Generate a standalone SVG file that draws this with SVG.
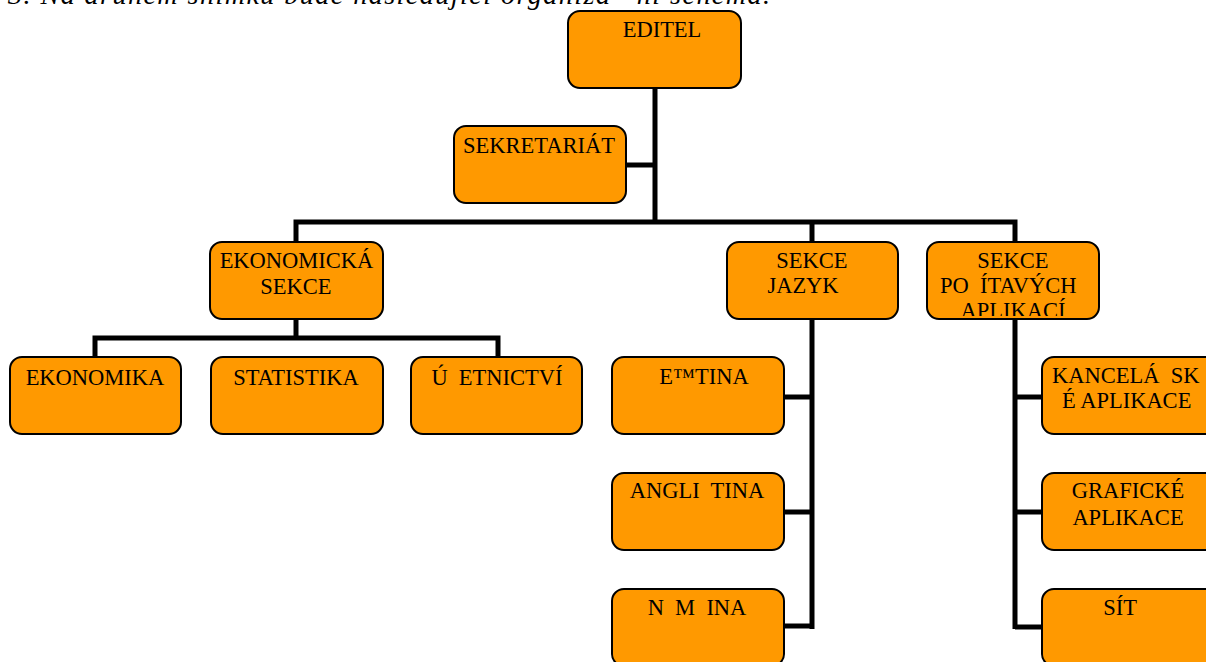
<svg xmlns="http://www.w3.org/2000/svg" width="1206" height="662" viewBox="0 0 1206 662" font-family="Liberation Serif, Times New Roman, serif">
<style>
.box{fill:#FF9900;stroke:#000;stroke-width:2}
.t{font-size:22.5px;fill:#000}
.m{text-anchor:middle}
.c{stroke:#000;stroke-width:5;fill:none;stroke-linejoin:miter}
.title{font-size:28px;font-style:italic;fill:#000}
</style>
<defs>
<clipPath id="clipPoc"><rect x="927" y="242" width="172" height="74"/></clipPath>
</defs>
<rect width="1206" height="662" fill="#fff"/>
<text class="title" x="8" y="4" xml:space="preserve" textLength="762" lengthAdjust="spacing">3. Na druhém snímku bude následující organiza   ní schéma.</text>

<g id="connectors">
<path class="c" d="M655,88 V222"/>
<path class="c" d="M626,165 H655"/>
<path class="c" d="M296,243 V222 H1015 V243"/>
<path class="c" d="M812,222 V243"/>
<path class="c" d="M296,319 V338"/>
<path class="c" d="M95,358 V338 H498 V358"/>
<path class="c" d="M812,319 V629"/>
<path class="c" d="M784,397 H812"/>
<path class="c" d="M784,512 H812"/>
<path class="c" d="M784,626 H812"/>
<path class="c" d="M1015,319 V629"/>
<path class="c" d="M1015,397 H1042"/>
<path class="c" d="M1015,512 H1042"/>
<path class="c" d="M1015,627 H1042"/>
</g>

<g id="editel">
<rect class="box" x="568" y="11" width="173" height="77" rx="12"/>
<text class="t m" x="662" y="37">EDITEL</text>
</g>
<g id="sekretariat">
<rect class="box" x="454" y="126" width="172" height="77" rx="12"/>
<text class="t m" x="539" y="153">SEKRETARIÁT</text>
</g>
<g id="ekonomicka-sekce">
<rect class="box" x="210" y="242" width="173" height="77" rx="12"/>
<text class="t m" x="296.5" y="268">EKONOMICKÁ</text>
<text class="t m" x="296" y="294">SEKCE</text>
</g>
<g id="sekce-jazyk">
<rect class="box" x="727" y="242" width="171" height="77" rx="12"/>
<text class="t m" x="812" y="268">SEKCE</text>
<text class="t m" x="803" y="293">JAZYK</text>
</g>
<g id="sekce-pocitacovych">
<rect class="box" x="927" y="242" width="172" height="77" rx="12"/>
<text class="t m" x="1013" y="268">SEKCE</text>
<text class="t" x="940" y="293" xml:space="preserve">PO  ÍTAVÝCH</text>
<text class="t m" x="1013" y="318" clip-path="url(#clipPoc)">APLIKACÍ</text>
</g>
<g id="ekonomika">
<rect class="box" x="10" y="357" width="171" height="77" rx="12"/>
<text class="t m" x="95" y="385">EKONOMIKA</text>
</g>
<g id="statistika">
<rect class="box" x="211" y="357" width="172" height="77" rx="12"/>
<text class="t m" x="296" y="385">STATISTIKA</text>
</g>
<g id="ucetnictvi">
<rect class="box" x="411" y="357" width="171" height="77" rx="12"/>
<text class="t m" x="497" y="385" xml:space="preserve">Ú  ETNICTVÍ</text>
</g>
<g id="cestina">
<rect class="box" x="612" y="357" width="172" height="77" rx="12"/>
<text class="t m" x="704" y="384">E™TINA</text>
</g>
<g id="anglictina">
<rect class="box" x="612" y="473" width="172" height="77" rx="12"/>
<text class="t m" x="697" y="498" xml:space="preserve">ANGLI  TINA</text>
</g>
<g id="nemcina">
<rect class="box" x="612" y="589" width="172" height="77" rx="12"/>
<text class="t m" x="697" y="615" xml:space="preserve">N  M  INA</text>
</g>
<g id="kancelarske">
<rect class="box" x="1042" y="357" width="180" height="77" rx="12"/>
<text class="t" x="1052" y="383" xml:space="preserve">KANCELÁ  SK</text>
<text class="t" x="1062" y="408">É APLIKACE</text>
</g>
<g id="graficke">
<rect class="box" x="1042" y="473" width="180" height="77" rx="12"/>
<text class="t m" x="1128" y="498">GRAFICKÉ</text>
<text class="t m" x="1128" y="525">APLIKACE</text>
</g>
<g id="sit">
<rect class="box" x="1042" y="589" width="180" height="77" rx="12"/>
<text class="t m" x="1120" y="615">SÍT</text>
</g>
</svg>
